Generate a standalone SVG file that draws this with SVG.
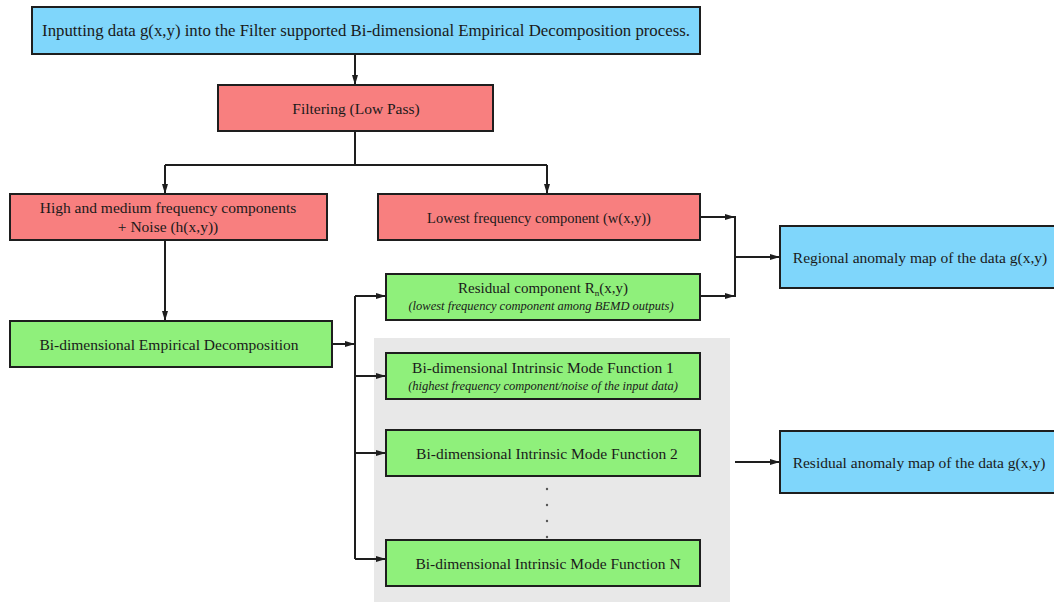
<svg xmlns="http://www.w3.org/2000/svg" width="1054" height="602" viewBox="0 0 1054 602">
<style>
.box{stroke:#1e1e1e;stroke-width:2}
.blue{fill:#7fd6fb}
.red{fill:#f87f7f}
.green{fill:#8ff07b}
text{font-family:"Liberation Serif","Times New Roman",serif;fill:#1a1a1a;text-anchor:middle}
.t{font-size:15.5px}
.s{font-size:12.5px;font-style:italic}
.c{fill:none;stroke:#1e1e1e;stroke-width:2}
</style>
<defs>
<marker id="a" markerWidth="10" markerHeight="8" refX="9" refY="4" orient="auto" markerUnits="userSpaceOnUse">
<path d="M0,1 L10,4 L0,7 z" fill="#1e1e1e"/>
</marker>
</defs>
<rect x="374" y="338" width="356" height="264" fill="#e8e8e8"/>
<g id="connectors">
<path class="c" d="M355,54 V84" marker-end="url(#a)"/>
<path class="c" d="M355,131 V165"/>
<path class="c" d="M165,165 H547"/>
<path class="c" d="M165,165 V193" marker-end="url(#a)"/>
<path class="c" d="M547,165 V193" marker-end="url(#a)"/>
<path class="c" d="M165,240 V320" marker-end="url(#a)"/>
<path class="c" d="M332,344 H354" marker-end="url(#a)"/>
<path class="c" d="M355,296 V559"/>
<path class="c" d="M355,296 H385" marker-end="url(#a)"/>
<path class="c" d="M355,376 H385" marker-end="url(#a)"/>
<path class="c" d="M355,453 H385" marker-end="url(#a)"/>
<path class="c" d="M355,559 H385" marker-end="url(#a)"/>
<path class="c" d="M700,217 H734" marker-end="url(#a)"/>
<path class="c" d="M700,296 H734" marker-end="url(#a)"/>
<path class="c" d="M735,216 V297"/>
<path class="c" d="M735,257 H779" marker-end="url(#a)"/>
<path class="c" d="M735,462 H779" marker-end="url(#a)"/>
</g>
<g id="input">
<rect class="box blue" x="32" y="7" width="668" height="47"/>
<text x="366" y="36" font-size="16.8">Inputting data g(x,y) into the Filter supported Bi-dimensional Empirical Decomposition process.</text>
</g>
<g id="filtering">
<rect class="box red" x="218" y="85" width="275" height="46"/>
<text class="t" x="356" y="114">Filtering (Low Pass)</text>
</g>
<g id="high">
<rect class="box red" x="10" y="194" width="317" height="46"/>
<text class="t" x="168" y="213">High and medium frequency components</text>
<text class="t" x="168" y="232">+ Noise (h(x,y))</text>
</g>
<g id="lowest">
<rect class="box red" x="378" y="194" width="322" height="46"/>
<text x="539" y="223" font-size="14.5">Lowest frequency component (w(x,y))</text>
</g>
<g id="bemd">
<rect class="box green" x="10" y="321" width="322" height="46"/>
<text class="t" x="169" y="350">Bi-dimensional Empirical Decomposition</text>
</g>
<g id="residual">
<rect class="box green" x="386" y="274" width="314" height="46"/>
<text x="543" y="293" font-size="15">Residual component R<tspan font-size="9" dy="3">n</tspan><tspan dy="-3">(x,y)</tspan></text>
<text class="s" x="541" y="310">(lowest frequency component among BEMD outputs)</text>
</g>
<g id="imf1">
<rect class="box green" x="386" y="353" width="314" height="46"/>
<text class="t" x="543" y="373">Bi-dimensional Intrinsic Mode Function 1</text>
<text class="s" x="543" y="390">(highest frequency component/noise of the input data)</text>
</g>
<g id="imf2">
<rect class="box green" x="386" y="430" width="314" height="46"/>
<text class="t" x="547" y="459">Bi-dimensional Intrinsic Mode Function 2</text>
</g>
<g id="dots" fill="#555">
<circle cx="547" cy="489" r="1.2"/>
<circle cx="547" cy="505" r="1.2"/>
<circle cx="547" cy="521" r="1.2"/>
<circle cx="547" cy="537" r="1.2"/>
</g>
<g id="imfn">
<rect class="box green" x="386" y="540" width="314" height="46"/>
<text class="t" x="548" y="569">Bi-dimensional Intrinsic Mode Function N</text>
</g>
<g id="regional">
<rect class="box blue" x="780" y="226" width="280" height="62"/>
<text class="t" x="920" y="263">Regional anomaly map of the data g(x,y)</text>
</g>
<g id="residualmap">
<rect class="box blue" x="780" y="431" width="280" height="62"/>
<text class="t" x="919" y="468">Residual anomaly map of the data g(x,y)</text>
</g>
</svg>
